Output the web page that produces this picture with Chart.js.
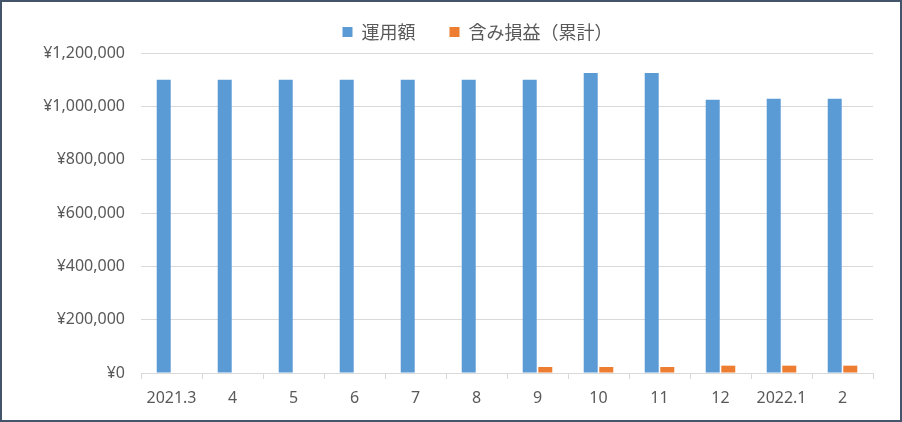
<!DOCTYPE html>
<html>
  <head>
    <meta charset="UTF-8" />
    <title>運用額</title>
    <script src="https://cdn.jsdelivr.net/npm/chart.js"></script>
    <style>
      body {
        margin: 0;
        background: #fff;
      }
      #wrap {
        width: 902px;
        height: 422px;
        box-sizing: border-box;
        border: 2px solid #44546a;
        background: #fff;
      }
    </style>
  </head>
  <body>
    <div id="wrap"><canvas id="chart" width="898" height="418"></canvas></div>
  </body>
  <script>
    const months = ["2021.3", "4", "5", "6", "7", "8", "9", "10", "11", "12", "2022.1", "2"];
    const invested = [1100000, 1100000, 1100000, 1100000, 1100000, 1100000, 1100000, 1125000, 1125000, 1025000, 1028000, 1028000];
    const gains = [0, 0, 0, 0, 0, 0, 22500, 22500, 22500, 27500, 27500, 27500];

    const font = { family: "'Noto Sans', 'Noto Sans CJK JP', sans-serif", size: 16 };
    const legendFont = { family: "'Noto Sans CJK JP', 'Noto Sans', sans-serif", size: 18 };

    // move the legend so it sits like the Excel one
    const legendPos = {
      id: "legendPos",
      beforeInit(chart) {
        const fit = chart.legend.fit;
        chart.legend.fit = function () {
          fit.call(this);
          this.height = 51;
        };
      },
      afterLayout(chart) {
        chart.legend.top -= 13;
        chart.legend.left += 40;
        chart.legend.right += 40;
      },
    };

    new Chart(document.getElementById("chart"), {
      type: "bar",
      data: {
        labels: months,
        datasets: [
          {
            label: "運用額",
            data: invested,
            backgroundColor: "#5b9bd5",
            categoryPercentage: 0.51,
            barPercentage: 0.9,
          },
          {
            label: "含み損益（累計）",
            data: gains,
            backgroundColor: "#ed7d31",
            categoryPercentage: 0.51,
            barPercentage: 0.9,
          },
        ],
      },
      options: {
        responsive: false,
        animation: false,
        layout: { padding: { left: 0, right: 27, top: 0, bottom: 0 } },
        plugins: {
          tooltip: { enabled: false },
          legend: {
            position: "top",
            labels: {
              boxWidth: 10,
              boxHeight: 10,
              padding: 34,
              color: "#595959",
              font: legendFont,
            },
          },
        },
        scales: {
          x: {
            offset: true,
            grid: {
              offset: true,
              drawOnChartArea: false,
              drawTicks: true,
              tickLength: 6,
              color: "#d9d9d9",
            },
            border: { color: "#d9d9d9" },
            ticks: { color: "#595959", font: font, padding: 10, maxRotation: 0, autoSkip: false },
            afterFit(scale) {
              scale.height = 47;
            },
          },
          y: {
            min: 0,
            max: 1200000,
            grid: { color: "#d9d9d9", drawTicks: false },
            border: { display: false },
            ticks: {
              stepSize: 200000,
              color: "#595959",
              font: font,
              padding: 16,
              callback: (v) => "¥" + v.toLocaleString("en-US"),
            },
            afterFit(scale) {
              scale.width = 139;
            },
          },
        },
      },
      plugins: [legendPos],
    });
  </script>
</html>
